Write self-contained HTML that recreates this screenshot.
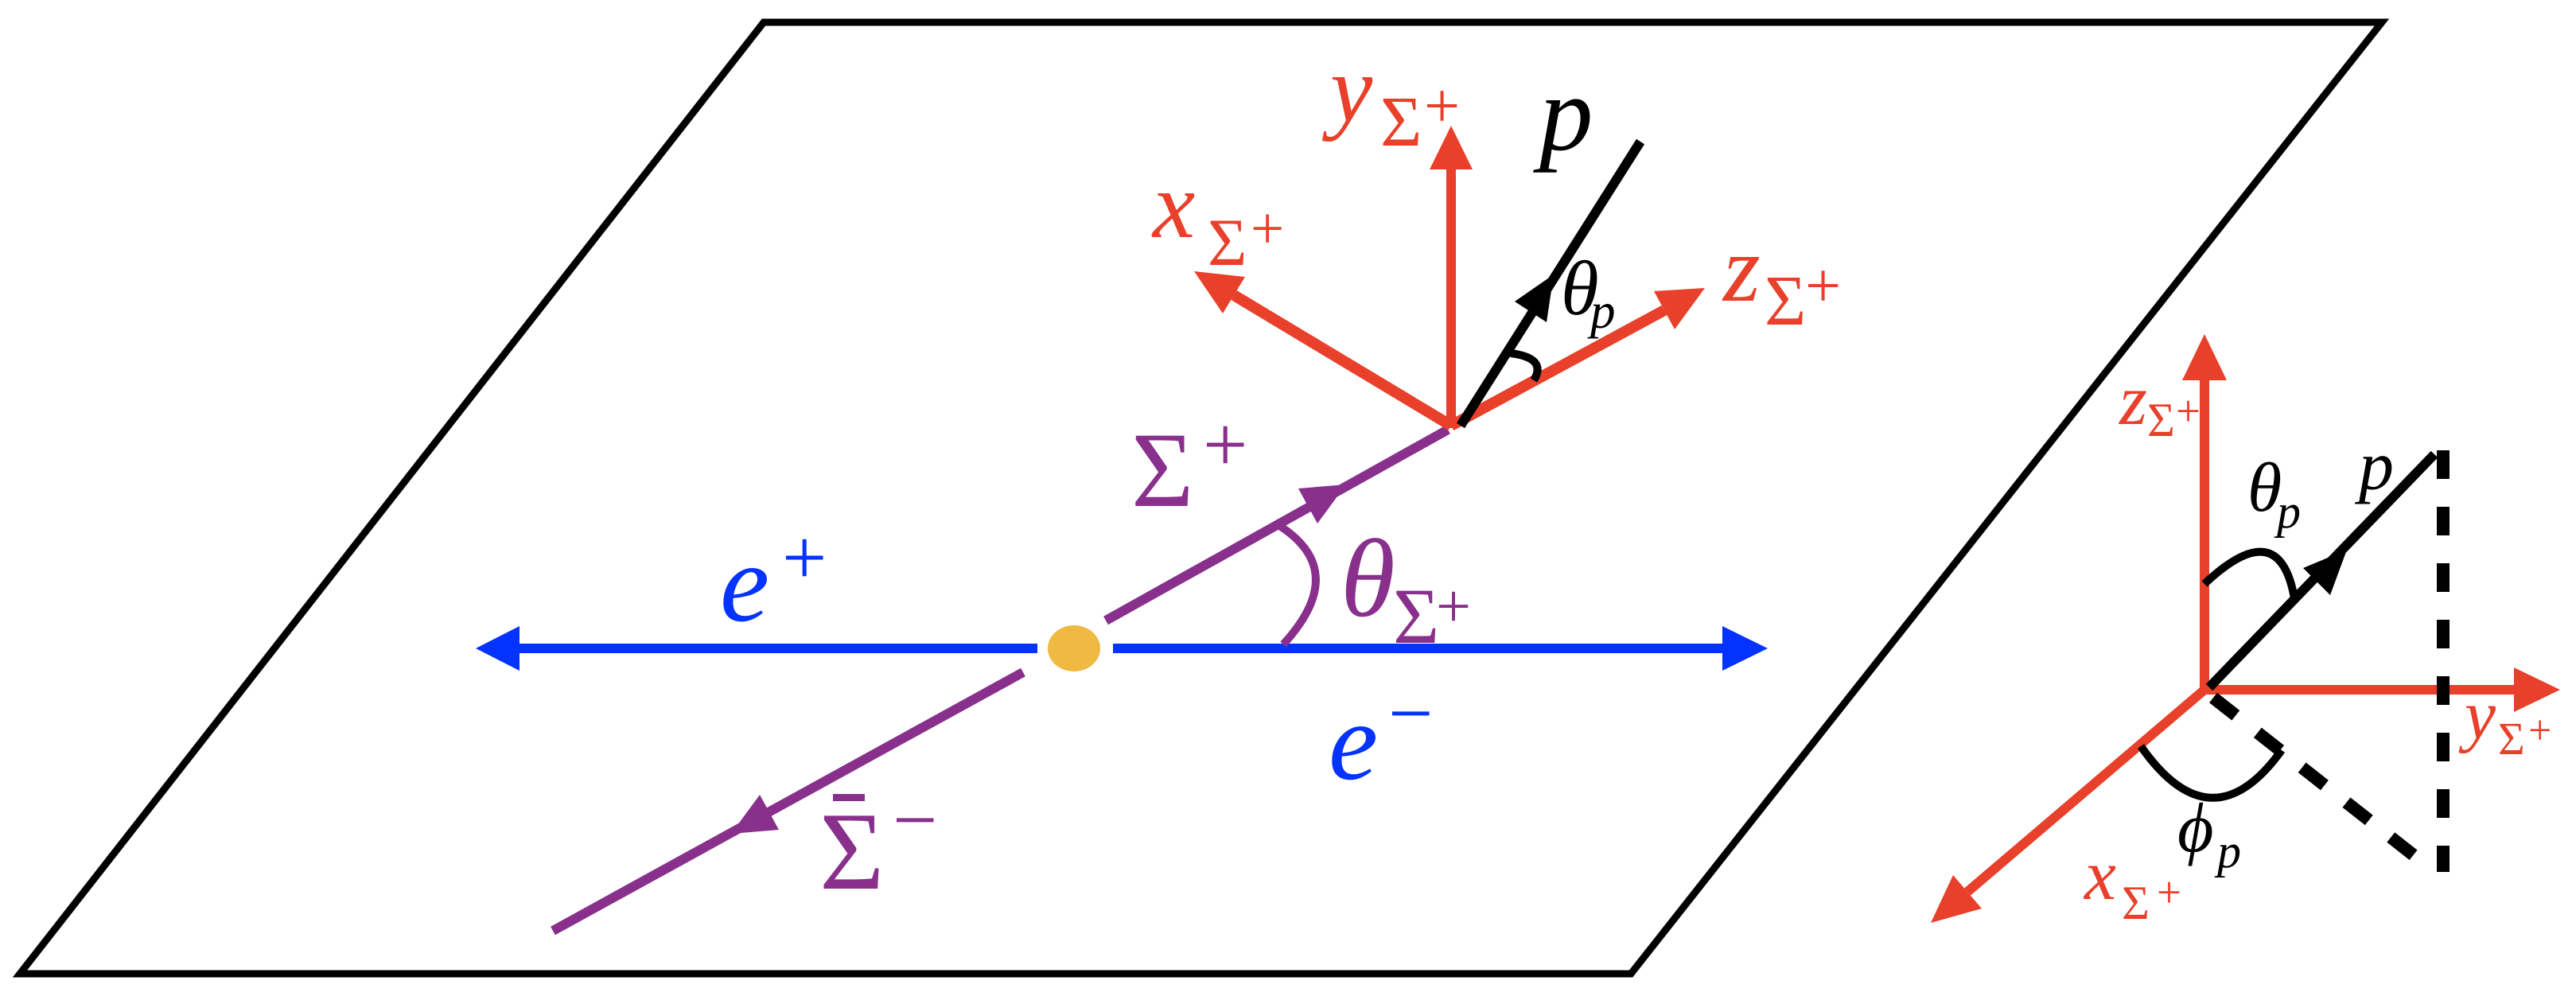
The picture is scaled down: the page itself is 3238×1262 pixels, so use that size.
<!DOCTYPE html>
<html><head><meta charset="utf-8"><style>
html,body{margin:0;padding:0;background:#fff;}
svg{display:block;}
</style></head><body>
<svg width="3238" height="1262" viewBox="0 0 3238 1262" xmlns="http://www.w3.org/2000/svg">
<rect width="3238" height="1262" fill="#fff"/>
<polygon points="960,28 2994,28 2050,1224 25,1224" fill="none" stroke="#000" stroke-width="9" stroke-linejoin="miter"/>

<line x1="650" y1="815" x2="1304" y2="815" stroke="#0433ff" stroke-width="12"/>
<polygon points="598,815 653,787 653,843" fill="#0433ff"/>
<line x1="1399" y1="815" x2="2168" y2="815" stroke="#0433ff" stroke-width="12"/>
<polygon points="2222,815 2165,787 2165,843" fill="#0433ff"/>
<ellipse cx="1350" cy="815" rx="33" ry="29" fill="#f0b942"/>

<line x1="1390" y1="780" x2="1820" y2="540" stroke="#88308c" stroke-width="12"/>
<polygon points="1692,609 1656,658 1632,614" fill="#88308c"/>
<line x1="1286" y1="845" x2="695" y2="1170" stroke="#88308c" stroke-width="12"/>
<polygon points="919,1048 979,1043 955,999" fill="#88308c"/>
<path d="M1602,657 Q1700,715 1613,810" fill="none" stroke="#88308c" stroke-width="10"/>

<line x1="1824" y1="538" x2="1824" y2="205" stroke="#e8402a" stroke-width="12"/>
<polygon points="1824,158 1797,213 1851,213" fill="#e8402a"/>
<line x1="1824" y1="535" x2="1551" y2="371" stroke="#e8402a" stroke-width="14"/>
<polygon points="1501,341 1565,348 1537,394" fill="#e8402a"/>
<line x1="1824" y1="535" x2="2092" y2="390" stroke="#e8402a" stroke-width="14"/>
<polygon points="2143,362 2105,414 2079,366" fill="#e8402a"/>
<line x1="1836" y1="535" x2="2062" y2="178" stroke="#000" stroke-width="12"/>
<polygon points="1953,345 1944,405 1904,379" fill="#000"/>
<path d="M1899,444 Q1945,450 1928,478" fill="none" stroke="#000" stroke-width="10"/>

<g font-family="'Liberation Serif','DejaVu Serif',serif">
<text x="1672" y="152" font-size="120" font-style="italic" fill="#e8402a">y</text>
<text x="1735" y="183" font-size="90" fill="#e8402a">Σ</text>
<text x="1790" y="160" font-size="80" fill="#e8402a">+</text>

<text x="1449" y="298" font-size="120" font-style="italic" fill="#e8402a">x</text>
<text x="1518" y="333" font-size="85" fill="#e8402a">Σ</text>
<text x="1572" y="312" font-size="75" fill="#e8402a">+</text>

<text x="2166" y="378" font-size="120" font-style="italic" fill="#e8402a">z</text>
<text x="2218" y="408" font-size="90" fill="#e8402a">Σ</text>
<text x="2269" y="386" font-size="80" fill="#e8402a">+</text>

<text x="1935" y="188" font-size="135" font-style="italic" fill="#000">p</text>
<text x="1962" y="395" font-size="97" font-style="italic" fill="#000">θ</text>
<text x="1999" y="412" font-size="63" font-style="italic" fill="#000">p</text>

<text x="1422" y="636" font-size="135" fill="#88308c">Σ</text>
<text x="1512" y="592" font-size="100" fill="#88308c">+</text>

<text x="1685" y="774" font-size="140" font-style="italic" fill="#88308c">θ</text>
<text x="1751" y="808" font-size="100" fill="#88308c">Σ</text>
<text x="1805" y="788" font-size="78" fill="#88308c">+</text>

<text x="905" y="780" font-size="140" font-style="italic" fill="#0433ff">e</text>
<text x="983" y="734" font-size="100" fill="#0433ff">+</text>
<text x="1670" y="979" font-size="140" font-style="italic" fill="#0433ff">e</text>
<text x="1745" y="930" font-size="100" fill="#0433ff">−</text>

<text x="1030" y="1117" font-size="140" fill="#88308c">Σ</text>
<rect x="1047" y="998" width="40" height="9" fill="#88308c"/>
<text x="1122" y="1064" font-size="100" fill="#88308c">−</text>
</g>

<line x1="2771" y1="870" x2="2771" y2="470" stroke="#e8402a" stroke-width="12"/>
<polygon points="2771,420 2743,478 2799,478" fill="#e8402a"/>
<line x1="2765" y1="867" x2="3165" y2="867" stroke="#e8402a" stroke-width="12"/>
<polygon points="3218,867 3160,839 3160,895" fill="#e8402a"/>
<line x1="2771" y1="867" x2="2473" y2="1121" stroke="#e8402a" stroke-width="12"/>
<polygon points="2427,1160 2491,1142 2455,1100" fill="#e8402a"/>
<line x1="2777" y1="864" x2="3060" y2="571" stroke="#000" stroke-width="12"/>
<polygon points="2950,691 2929,748 2895,714" fill="#000"/>
<line x1="3071" y1="566" x2="3071" y2="1096" stroke="#000" stroke-width="16" stroke-dasharray="36 35"/>
<line x1="2782" y1="877" x2="3039" y2="1079" stroke="#000" stroke-width="16" stroke-dasharray="36 35"/>
<path d="M2771,734 Q2865,645 2884,752" fill="none" stroke="#000" stroke-width="10"/>
<path d="M2691,938 Q2780,1065 2868,943" fill="none" stroke="#000" stroke-width="10"/>

<g font-family="'Liberation Serif','DejaVu Serif',serif">
<text x="2664" y="533" font-size="90" font-style="italic" fill="#e8402a">z</text>
<text x="2699" y="548" font-size="60" fill="#e8402a">Σ</text>
<text x="2735" y="535" font-size="55" fill="#e8402a">+</text>

<text x="2825" y="642" font-size="88" font-style="italic" fill="#000">θ</text>
<text x="2862" y="663" font-size="60" font-style="italic" fill="#000">p</text>
<text x="2965" y="615" font-size="88" font-style="italic" fill="#000">p</text>

<text x="3098" y="928" font-size="88" font-style="italic" fill="#e8402a">y</text>
<text x="3140" y="948" font-size="58" fill="#e8402a">Σ</text>
<text x="3178" y="935" font-size="52" fill="#e8402a">+</text>

<text x="2737" y="1070" font-size="88" font-style="italic" fill="#000">ϕ</text>
<text x="2787" y="1090" font-size="60" font-style="italic" fill="#000">p</text>

<text x="2620" y="1130" font-size="90" font-style="italic" fill="#e8402a">x</text>
<text x="2667" y="1155" font-size="60" fill="#e8402a">Σ</text>
<text x="2711" y="1140" font-size="55" fill="#e8402a">+</text>
</g>
</svg>
</body></html>
